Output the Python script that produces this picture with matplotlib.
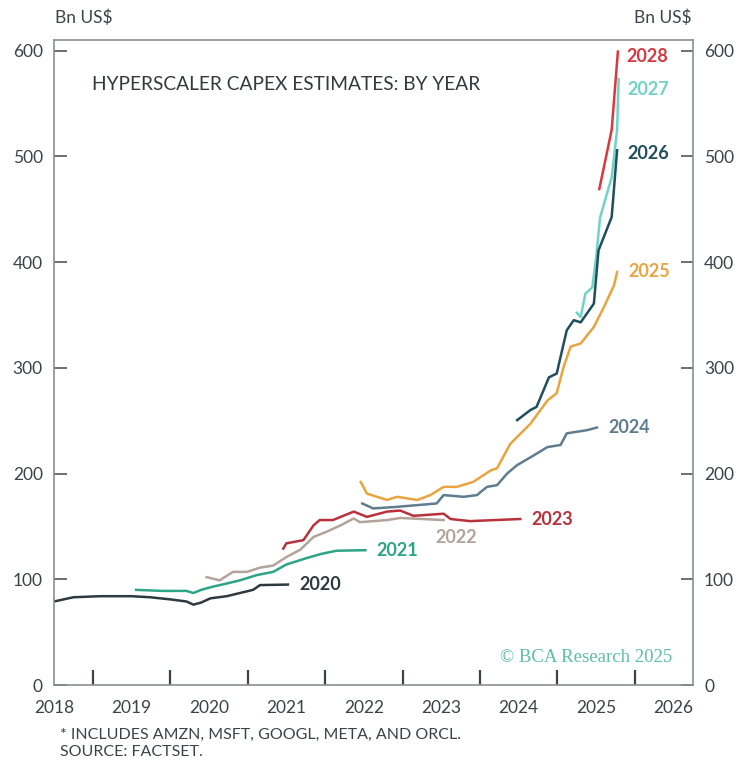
import matplotlib
matplotlib.use("Agg")
import matplotlib.pyplot as plt

plt.rcParams['font.family'] = ['Lato', 'DejaVu Sans']

# estimates of hyperscaler capex for each fiscal year, Bn US$ (x = date of estimate)
x2020 = [2018.0, 2018.25, 2018.6, 2019.0, 2019.24, 2019.5, 2019.71, 2019.8, 2019.9, 2020.02, 2020.23, 2020.4, 2020.57, 2020.66, 2021.02]
y2020 = [79, 83, 84, 84, 83, 81, 79, 76, 78, 82, 84, 87, 90, 94.5, 95]

x2021 = [2019.06, 2019.4, 2019.71, 2019.8, 2019.9, 2020.05, 2020.23, 2020.4, 2020.62, 2020.83, 2021.0, 2021.26, 2021.45, 2021.65, 2022.02]
y2021 = [90, 89, 89, 87, 90, 93, 96, 99, 104, 107, 114, 120, 124, 127, 127.5]

x2022 = [2019.97, 2020.14, 2020.31, 2020.49, 2020.66, 2020.83, 2021.0, 2021.18, 2021.35, 2021.52, 2021.7, 2021.87, 2021.95, 2022.3, 2022.47, 2023.03]
y2022 = [102, 99, 107, 107, 111, 113, 121, 128, 140, 145, 151, 157.5, 154, 156, 158, 156]

x2023 = [2020.96, 2021.0, 2021.22, 2021.35, 2021.43, 2021.6, 2021.87, 2022.04, 2022.3, 2022.47, 2022.64, 2023.03, 2023.12, 2023.37, 2024.02]
y2023 = [129, 134, 137, 151, 156, 156, 164, 159, 164, 165, 160, 162, 157, 155, 157]

x2024 = [2021.98, 2022.12, 2022.43, 2022.94, 2023.03, 2023.29, 2023.46, 2023.59, 2023.72, 2023.85, 2023.98, 2024.19, 2024.37, 2024.54, 2024.62, 2024.88, 2025.01]
y2024 = [171.7, 167, 168.5, 171.7, 179.6, 178, 179.6, 187.4, 189, 200, 208, 217, 225, 227, 238, 241, 243.5]

x2025 = [2021.96, 2022.04, 2022.3, 2022.43, 2022.69, 2022.86, 2023.03, 2023.2, 2023.41, 2023.64, 2023.72, 2023.89, 2024.15, 2024.37, 2024.49, 2024.58, 2024.67, 2024.8, 2024.97, 2025.1, 2025.23, 2025.27]
y2025 = [192, 181, 175, 178, 175, 179.6, 187.4, 187.4, 192, 203, 205, 228, 247, 269, 276, 301, 320, 323, 338.7, 357.5, 378, 390.6]

x2026 = [2023.98, 2024.15, 2024.23, 2024.39, 2024.49, 2024.62, 2024.71, 2024.8, 2024.97, 2025.03, 2025.1, 2025.2, 2025.27]
y2026 = [250.5, 260, 263, 291, 294.5, 335.5, 345, 343, 360.7, 411, 424, 442.6, 505.7]

x2027 = [2024.75, 2024.8, 2024.86, 2024.95, 2025.0, 2025.05, 2025.14, 2025.2, 2025.27, 2025.29]
y2027 = [352, 348, 370, 376, 405, 442, 465, 480, 525, 573]

x2028 = [2025.04, 2025.2, 2025.28]
y2028 = [469, 525, 599]

series = [
    ('2020', x2020, y2020, '#2d3a3f'),
    ('2021', x2021, y2021, '#2ea486'),
    ('2022', x2022, y2022, '#b3a39a'),
    ('2023', x2023, y2023, '#b8323c'),
    ('2024', x2024, y2024, '#5f7d8f'),
    ('2025', x2025, y2025, '#e9a440'),
    ('2027', x2027, y2027, '#6fd3c6'),
    ('2026', x2026, y2026, '#1f4e5f'),
    ('2028', x2028, y2028, '#d8383f'),
]

year_labels = list(range(2018, 2027))
half_ticks = [y + 0.5 for y in range(2018, 2026)]
y_ticks = [0, 100, 200, 300, 400, 500, 600]

text_col = '#3a4448'

fig = plt.figure(figsize=(7.37, 7.63), dpi=100)
ax = fig.add_axes([0.0733, 0.1022, 0.8670, 0.8454])

for name, xs, ys, color in series:
    ax.plot(xs, ys, color=color, lw=1.8, solid_joinstyle='round')
    dx, dy = 11, 0
    if name == '2022':
        dx, dy = -8, -17
    elif name == '2027':
        dx, dy = 9, -10
    elif name == '2028':
        dx, dy = 9, -5
    elif name == '2026':
        dx, dy = 10, -3
    ax.annotate(name, (xs[-1], ys[-1]), xytext=(dx, dy), textcoords='offset pixels',
                color=color, fontsize=13, fontweight='bold', va='center', ha='left')

ax.set_xlim(2018.0, 2026.25)
ax.set_ylim(0, 610)

# x axis: year labels without marks, tick marks at mid-year
ax.set_xticks(half_ticks)
ax.set_xticklabels([])
ax.tick_params(axis='x', direction='in', length=11, width=1.6, color=text_col)
for yr in year_labels:
    ax.text(yr, -14, str(yr), ha='center', va='top', fontsize=12.5, color=text_col,
            transform=ax.transData, clip_on=False)

ax.set_yticks(y_ticks)
ax.tick_params(axis='y', direction='in', length=9, width=1.2, color='#555555',
               labelsize=12.5, labelcolor=text_col, pad=8, right=True, labelright=True)

for sp in ax.spines.values():
    sp.set_color('#8a8f92')
    sp.set_linewidth(1.2)

fig.text(55 / 737, 1 - 18 / 763, 'Bn US$', fontsize=12.5, color=text_col, ha='left', va='center')
fig.text(692 / 737, 1 - 18 / 763, 'Bn US$', fontsize=12.5, color=text_col, ha='right', va='center')

ax.text(92 / 737, 1 - 85 / 763, 'HYPERSCALER CAPEX ESTIMATES: BY YEAR', transform=fig.transFigure,
        fontsize=13.8, color='#333a3d', ha='left', va='center')

ax.text(672 / 737, 1 - 657 / 763, '\u00a9 BCA Research 2025', transform=fig.transFigure,
        fontsize=13.5, color='#5cbfa5', ha='right', va='center', family=['Liberation Serif', 'DejaVu Serif'])

fig.text(60 / 737, 1 - 735 / 763, '* INCLUDES AMZN, MSFT, GOOGL, META, AND ORCL.', fontsize=11.5,
         color=text_col, ha='left', va='center')
fig.text(60 / 737, 1 - 752 / 763, 'SOURCE: FACTSET.', fontsize=11.5, color=text_col, ha='left', va='center')

fig.savefig('out.png', dpi=100)
